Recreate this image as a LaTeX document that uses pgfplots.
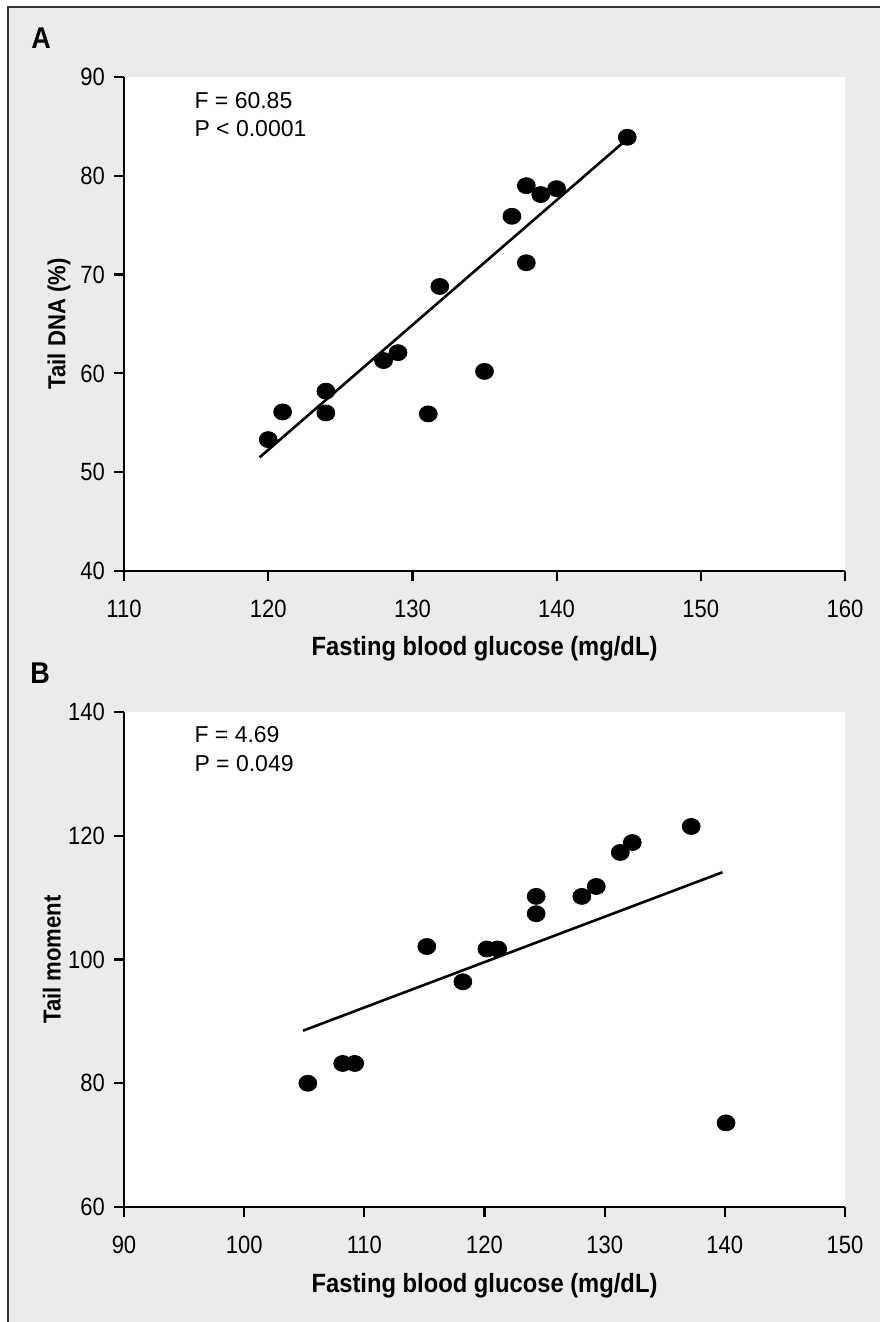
\documentclass[border=0pt]{standalone}
\usepackage{fontspec}
\setmainfont{Liberation Sans}
\newfontfamily\condbf[FakeStretch=0.9]{Liberation Sans Bold}
\newfontfamily\condrm[FakeStretch=0.88]{Liberation Sans}
\usepackage{pgfplots}
\pgfplotsset{compat=1.18}
\definecolor{bgray}{HTML}{EBEBEB}
\definecolor{bord}{HTML}{333333}

\pgfplotsset{
  panel/.style={
    anchor=north west,
    scale only axis,
    width=360.5pt,
    axis x line*=bottom,
    axis y line*=left,
    axis line style={line width=1.3pt, black},
    tick style={line width=1.1pt, black},
    tick align=outside,
    major tick length=5pt,
    axis background/.style={fill=white},
    /pgf/number format/assume math mode=true,
    every tick label/.append style={font=\condrm\fontsize{12.5}{14}\selectfont},
    yticklabel style={xshift=-1pt},
    xticklabel style={yshift=-6pt},
    label style={font=\condbf\fontsize{13.2}{15}\selectfont},
    clip=false,
  },
  dots/.style={only marks, mark=*, mark size=4pt, mark options={xscale=1.12, fill=black, draw=black}},
  fit/.style={no marks, black, line width=1.3pt},
}

\begin{document}
\begin{tikzpicture}
\useasboundingbox (0,0) rectangle (440pt,-661pt);
\fill[white] (0,0) rectangle (440pt,-661pt);
\fill[bgray] (4pt,-3.5pt) rectangle (440pt,-661pt);
\draw[bord, line width=1pt] (4pt,-661pt) -- (4pt,-3.5pt) -- (440pt,-3.5pt);

\node[font=\condbf\fontsize{15}{17}\selectfont] at (20.5pt,-19pt) {A};
\node[font=\condbf\fontsize{15}{17}\selectfont] at (20pt,-336.5pt) {B};

% Panel A
\begin{axis}[panel,
  at={(62pt,-38.5pt)},
  height=247pt,
  xmin=110, xmax=160, ymin=40, ymax=90,
  xtick={110,120,130,140,150,160},
  ytick={40,50,60,70,80,90},
  xlabel={Fasting blood glucose (mg/dL)},
  ylabel={Tail DNA (\%)},
  ylabel style={at={(axis description cs:-0.09,0.5)}, anchor=center, font=\condbf\fontsize{12.3}{14}\selectfont},
  xlabel style={at={(axis description cs:0.5,-0.158)}, anchor=center},
]
\addplot[dots] coordinates {
(120.0,53.3) (121.0,56.1) (124.0,58.2) (124.0,56.0) (128.0,61.3)
(129.0,62.1) (131.1,55.9) (131.9,68.8) (135.0,60.2) (136.9,75.9)
(137.9,71.2) (137.9,79.0) (138.9,78.1) (140.0,78.7) (144.9,83.9)
};
\addplot[fit] coordinates {(119.4,51.5) (144.6,83.35)};
\node[anchor=west, font=\fontsize{11.5}{13}\selectfont] at (axis description cs:0.088,0.953) {F = 60.85};
\node[anchor=west, font=\fontsize{11.5}{13}\selectfont] at (axis description cs:0.088,0.895) {P < 0.0001};
\end{axis}

% Panel B
\begin{axis}[panel,
  at={(62pt,-356pt)},
  height=247.5pt,
  xmin=90, xmax=150, ymin=60, ymax=140,
  xtick={90,100,110,120,130,140,150},
  ytick={60,80,100,120,140},
  xlabel={Fasting blood glucose (mg/dL)},
  ylabel={Tail moment},
  ylabel style={at={(axis description cs:-0.1,0.5)}, anchor=center, font=\condbf\fontsize{12.3}{14}\selectfont},
  xlabel style={at={(axis description cs:0.5,-0.16)}, anchor=center},
]
\addplot[dots] coordinates {
(105.3,80.0) (108.2,83.2) (109.2,83.2) (115.2,102.1) (118.2,96.4)
(120.2,101.7) (121.1,101.7) (124.3,110.2) (124.3,107.4) (128.1,110.2)
(129.3,111.8) (131.3,117.3) (132.3,118.9) (137.2,121.5) (140.1,73.6)
};
\addplot[fit] coordinates {(104.9,88.5) (139.8,114.1)};
\node[anchor=west, font=\fontsize{11.5}{13}\selectfont] at (axis description cs:0.088,0.954) {F = 4.69};
\node[anchor=west, font=\fontsize{11.5}{13}\selectfont] at (axis description cs:0.088,0.895) {P = 0.049};
\end{axis}
\end{tikzpicture}
\end{document}
